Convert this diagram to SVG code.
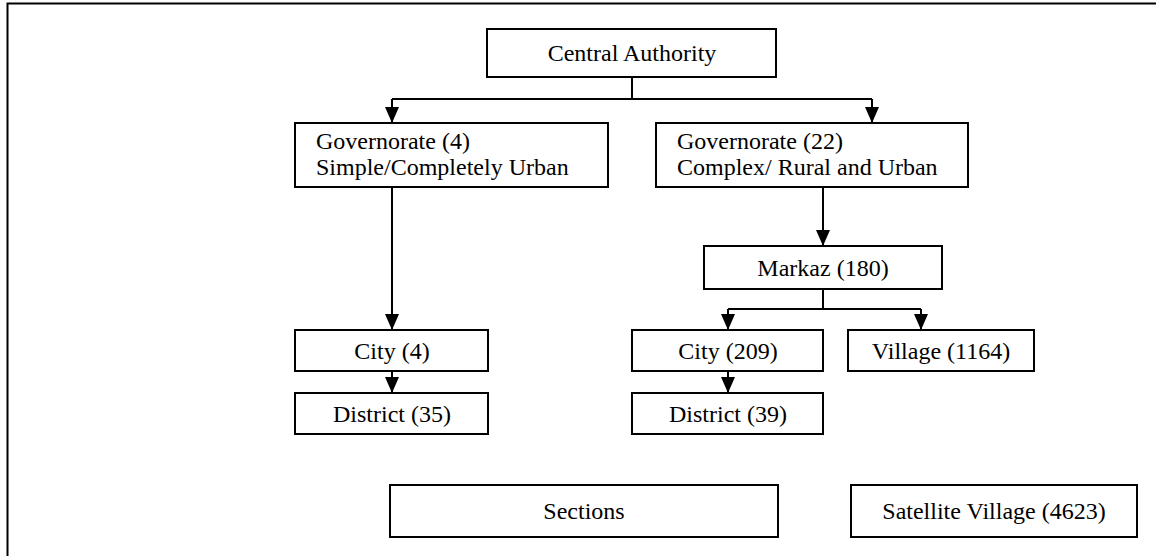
<svg xmlns="http://www.w3.org/2000/svg" width="1156" height="556" viewBox="0 0 1156 556">
<style>
.box{fill:#fff;stroke:#000;stroke-width:2}
.t{font-family:'Liberation Serif','DejaVu Serif',serif;font-size:24px;fill:#000}
.c{text-anchor:middle}
.ln{fill:none;stroke:#000;stroke-width:2}
</style>
<defs>
<marker id="ah" markerWidth="16" markerHeight="14" viewBox="0 0 16 14" refX="16" refY="7" orient="auto" markerUnits="userSpaceOnUse">
<path d="M0,0 L16,7 L0,14 Z" fill="#000"/>
</marker>
</defs>
<rect width="1156" height="556" fill="#fff"/>
<path d="M7.5,556 V3.5 H1156" fill="none" stroke="#000" stroke-width="2"/>
<g id="connectors">
<path class="ln" d="M632,77 V99 M392,99 H872"/>
<path class="ln" d="M392,99 V123" marker-end="url(#ah)"/>
<path class="ln" d="M872,99 V123" marker-end="url(#ah)"/>
<path class="ln" d="M392,187 V330" marker-end="url(#ah)"/>
<path class="ln" d="M823,187 V246" marker-end="url(#ah)"/>
<path class="ln" d="M823,289 V309 M728,309 H921"/>
<path class="ln" d="M728,309 V330" marker-end="url(#ah)"/>
<path class="ln" d="M921,309 V330" marker-end="url(#ah)"/>
<path class="ln" d="M392,371 V393" marker-end="url(#ah)"/>
<path class="ln" d="M728,371 V393" marker-end="url(#ah)"/>
</g>
<g id="central"><rect class="box" x="487" y="29" width="289" height="48"/><text class="t c" x="632" y="61">Central Authority</text></g>
<g id="gov4"><rect class="box" x="295" y="123" width="313" height="64"/><text class="t" x="316" y="149">Governorate (4)</text><text class="t" x="316" y="175">Simple/Completely Urban</text></g>
<g id="gov22"><rect class="box" x="656" y="123" width="312" height="64"/><text class="t" x="677" y="149">Governorate (22)</text><text class="t" x="677" y="175">Complex/ Rural and Urban</text></g>
<g id="markaz"><rect class="box" x="704" y="246" width="238" height="43"/><text class="t c" x="823" y="276">Markaz (180)</text></g>
<g id="city4"><rect class="box" x="295" y="330" width="193" height="41"/><text class="t c" x="392" y="359">City (4)</text></g>
<g id="city209"><rect class="box" x="632" y="330" width="191" height="41"/><text class="t c" x="728" y="359">City (209)</text></g>
<g id="village"><rect class="box" x="848" y="330" width="186" height="41"/><text class="t c" x="941" y="359">Village (1164)</text></g>
<g id="district35"><rect class="box" x="295" y="393" width="193" height="41"/><text class="t c" x="392" y="422">District (35)</text></g>
<g id="district39"><rect class="box" x="632" y="393" width="191" height="41"/><text class="t c" x="728" y="422">District (39)</text></g>
<g id="sections"><rect class="box" x="390" y="485" width="388" height="52"/><text class="t c" x="584" y="519">Sections</text></g>
<g id="satellite"><rect class="box" x="851" y="485" width="286" height="52"/><text class="t c" x="994" y="519">Satellite Village (4623)</text></g>
</svg>
